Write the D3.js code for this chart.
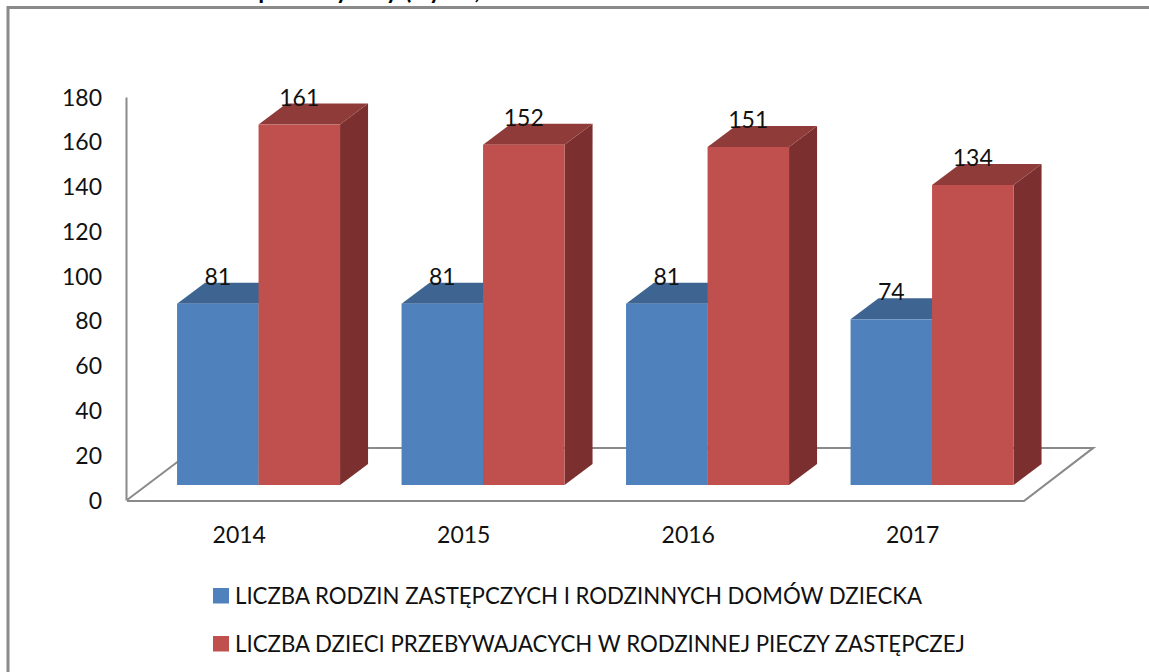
<!DOCTYPE html>
<html><head><meta charset="utf-8">
<script src="https://cdn.jsdelivr.net/npm/d3@7/dist/d3.min.js"></script>
<style>html,body{margin:0;padding:0;background:#fff;overflow:hidden}svg{display:block}text{font-family:Lato,"Open Sans",sans-serif;fill:#111}</style>
</head><body><svg id="c" width="1149" height="672"></svg>
<script>
const categories = ["2014","2015","2016","2017"];
const seriesNames = ["LICZBA RODZIN ZASTĘPCZYCH I RODZINNYCH DOMÓW DZIECKA","LICZBA DZIECI PRZEBYWAJACYCH W RODZINNEJ PIECZY ZASTĘPCZEJ"];
const familyValues = [81,81,81,74];
const childValues = [161,152,151,134];
const yTicks = [0,20,40,60,80,100,120,140,160,180];
const frontColors = ["#4F81BD","#C0504D"];
const topColors = ["#3E6591","#8F3B39"];
const sideColors = ["#335478","#7B2F2E"];
const legendWidths = [687,730];
const titleScraps = [["p",265],["y",342],["y",392],["(",408],["y",435],[",",477]];

const svg = d3.select("#c");
const W=1149,H=672;
const G="#8a8a8a";
const dx=28,dy=-21,lift=15,groupW=163;
const y=d3.scaleLinear().domain([0,180]).range([500,97]);
const x0=d3.scaleBand().domain(categories).range([127,1025]);
const x1=d3.scaleBand().domain([0,1]).range([0,groupW]);
const groupLeft=c=>x0(c)+(x0.bandwidth()-groupW)/2+19.3;

// frame
svg.append("path").attr("d",`M8,${H}V7.5H${W}`).attr("fill","none").attr("stroke",G).attr("stroke-width",3);
// clipped title remnants
svg.selectAll(".t").data(titleScraps).join("text").attr("class","t")
  .attr("x",d=>d[1]).attr("y",-1).attr("text-anchor","middle")
  .style("font-size","24px").style("font-weight",700).style("fill","#000").text(d=>d[0]);

// floor
const fy=y(0), by=448;
svg.append("path").attr("d",`M127,${fy+1}H1024L1093,${by}H368`).attr("fill","none").attr("stroke",G).attr("stroke-width",2.2);
svg.append("path").attr("d",`M127,${fy}L180,${fy-40}`).attr("fill","none").attr("stroke",G).attr("stroke-width",2);

// y axis
const ax=svg.append("g").attr("transform","translate(126,0)")
  .call(d3.axisLeft(y).tickValues(yTicks).tickSize(0).tickPadding(24));
ax.select(".domain").attr("stroke",G).attr("stroke-width",2);
ax.selectAll("text").style("font-size","23px").attr("dy","0.35em").style("font-family","Lato");

// x axis labels
svg.selectAll(".xl").data(categories).join("text").attr("class","xl")
  .attr("x",c=>x0(c)+x0.bandwidth()/2).attr("y",543).attr("text-anchor","middle")
  .style("font-size","23px").text(d=>d);

// bars
[familyValues,childValues].forEach((vals,s)=>{
  const g=svg.append("g");
  categories.forEach((c,i)=>{
    const l=groupLeft(c)+x1(s), r=l+x1.bandwidth(), t=y(vals[i])-lift, b=y(0)-lift;
    g.append("path").attr("d",`M${r},${t}L${r+dx},${t+dy}V${b+dy}L${r},${b}Z`).attr("fill",sideColors[s]);
    g.append("path").attr("d",`M${l},${t}L${l+dx},${t+dy}H${r+dx}L${r},${t}Z`).attr("fill",topColors[s]);
    g.append("rect").attr("x",l).attr("y",t).attr("width",r-l).attr("height",b-t).attr("fill",frontColors[s]);
  });
});
// data labels
[familyValues,childValues].forEach((vals,s)=>{
  svg.selectAll(".dl"+s).data(vals).join("text").attr("class","dl"+s)
    .attr("x",(v,i)=>groupLeft(categories[i])+x1(s)+x1.bandwidth()/2)
    .attr("y",v=>y(v)-lift+dy+2).attr("text-anchor","middle")
    .style("font-size","23px").text(v=>v);
});
// legend
const ly=[588,636];
seriesNames.forEach((n,i)=>{
  svg.append("rect").attr("x",213).attr("y",ly[i]).attr("width",16).attr("height",15.5).attr("fill",frontColors[i]);
  svg.append("text").attr("x",235).attr("y",ly[i]+15.5).style("font-size","23px")
    .attr("textLength",legendWidths[i]).attr("lengthAdjust","spacingAndGlyphs").text(n);
});
</script></body></html>
